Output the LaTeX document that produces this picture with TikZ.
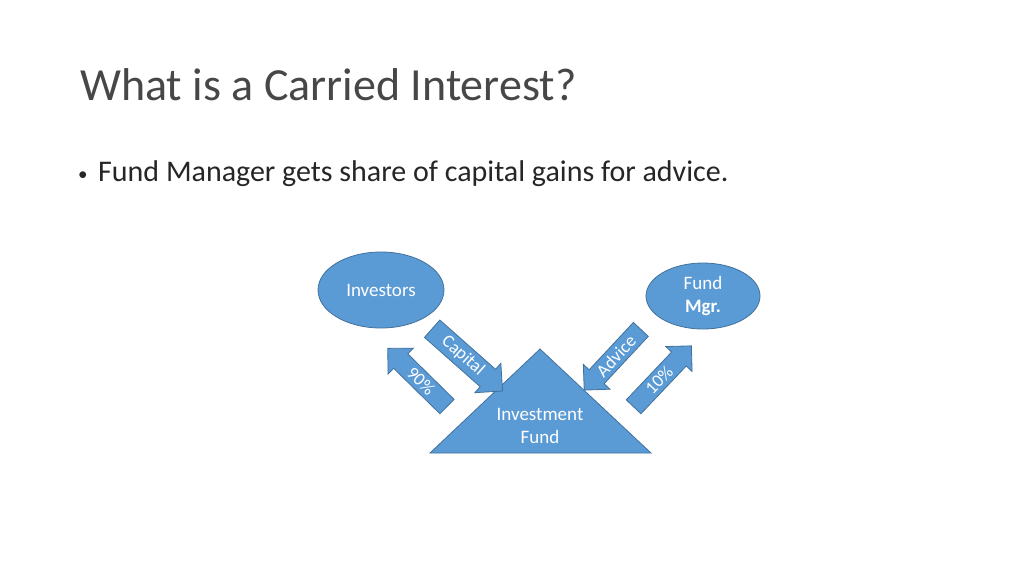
\documentclass[tikz,border=0pt]{standalone}
\usepackage{fontspec}
\setmainfont{Carlito}
\usetikzlibrary{shapes.geometric,shapes.arrows}
\definecolor{fill}{HTML}{5B9BD5}
\definecolor{edge}{HTML}{41719C}
\tikzset{
 shp/.style={fill=fill,draw=edge,line width=0.8pt,text=white,font=\fontsize{19}{23}\selectfont},
 arr/.style={shp,single arrow,single arrow head extend=8pt,inner xsep=1pt,inner ysep=3.5pt,single arrow tip angle=90,font=\fontsize{18}{18}\selectfont,anchor=center}
}
\begin{document}
\begin{tikzpicture}[x=1pt,y=-1pt]
\useasboundingbox[fill=white] (0,0) rectangle (1024,576);
\node[anchor=base west,inner sep=0,font=\fontsize{46}{50}\selectfont,text=black!72] (title) at (80,100) {What is a Carried Interest?};
\node[anchor=base west,inner sep=0,font=\fontsize{19}{20}\selectfont,text=black!85] (dot) at (78,180) {\textbullet};
\node[anchor=base west,inner sep=0,font=\fontsize{30}{33}\selectfont,text=black!85] (b) at (98,181) {Fund Manager gets share of capital gains for advice.};
\node[shp,ellipse,minimum width=126,minimum height=76] (inv) at (381,290) {Investors};
\node[shp,ellipse,minimum width=114,minimum height=66,align=center] (mgr) at (703,296) {Fund\\\textbf{Mgr.}};
\draw[shp] (540,349) coordinate (apex) -- (651,453) coordinate (br) -- (430,453) coordinate (bl) -- cycle;
\node[font=\fontsize{19}{23}\selectfont,text=white,align=center] (fundtxt) at (540,426) {Investment\\Fund};
\node[arr,minimum height=94,rotate=-41.5] (cap) at (463,356) {Capital};
\node[arr,minimum height=83,rotate=-44.5,shape border rotate=180] (ninety) at (421,381) {90\%};
\node[arr,minimum height=83,rotate=47,shape border rotate=180] (adv) at (616,356) {Advice};
\node[arr,minimum height=84,rotate=46.5] (ten) at (659,380) {10\%};
\end{tikzpicture}
\end{document}
